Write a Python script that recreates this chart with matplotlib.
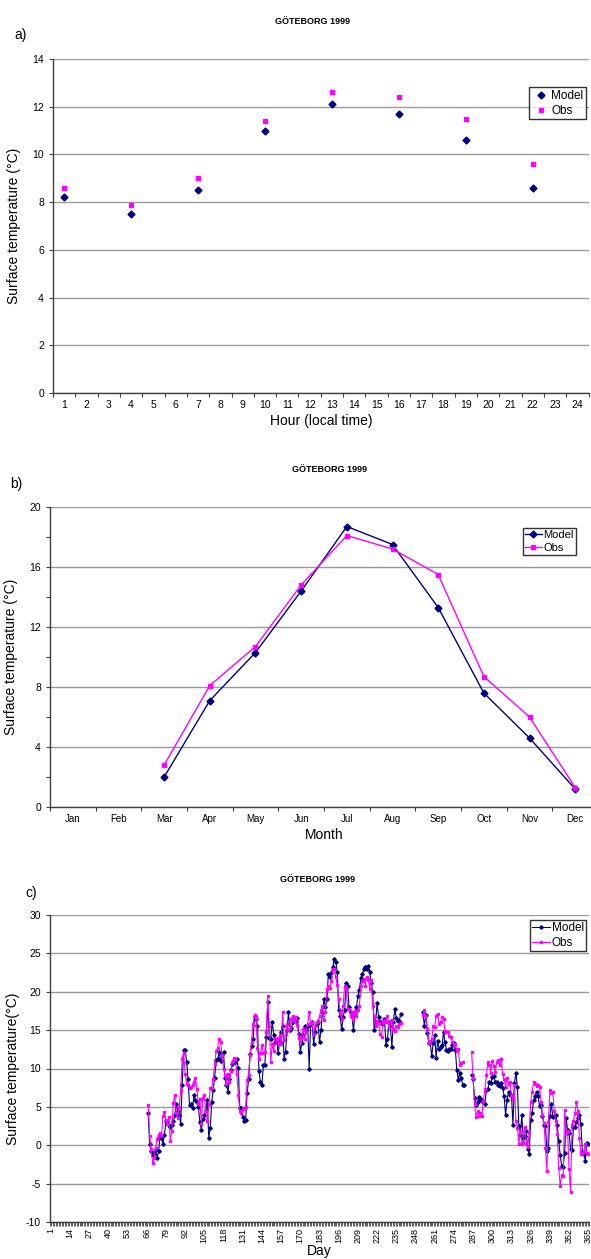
import numpy as np
import matplotlib.pyplot as plt
from matplotlib.ticker import FixedLocator, MultipleLocator, NullFormatter

plt.rcParams['font.family'] = ['Liberation Sans', 'DejaVu Sans']
plt.rcParams['axes.unicode_minus'] = False

NAVY = '#000080'
MAGENTA = '#FF00FF'

# a) diurnal values
hours = [1, 4, 7, 10, 13, 16, 19, 22]
model_hour = [8.2, 7.5, 8.5, 11.0, 12.1, 11.7, 10.6, 8.6]
obs_hour = [8.6, 7.9, 9.0, 11.4, 12.6, 12.4, 11.5, 9.6]

# b) monthly means (Mar-Dec)
months = ['Jan', 'Feb', 'Mar', 'Apr', 'May', 'Jun', 'Jul', 'Aug', 'Sep', 'Oct', 'Nov', 'Dec']
model_month = [2.0, 7.1, 10.3, 14.4, 18.7, 17.5, 13.3, 7.6, 4.6, 1.2]
obs_month = [2.8, 8.1, 10.7, 14.8, 18.1, 17.2, 15.5, 8.7, 6.0, 1.3]

# c) daily values, three periods with gaps between
seg_start_model = [67, 253, 286]
seg_start_obs = [67, 253, 286]
model_day1 = [4.2, 0.1, -0.7, -1.3, -1.0, -0.5, -1.6, -0.8, 1.1, 1.0,
              0.2, 1.4, 3.1, 3.2, 2.7, 2.4, 2.7, 3.2, 3.9, 5.4,
              4.4, 4.0, 2.8, 7.9, 12.4, 12.4, 10.9, 8.6, 5.2, 5.4,
              4.9, 6.5, 5.9, 5.7, 5.0, 3.0, 2.0, 3.4, 3.9, 4.6,
              5.9, 1.0, 2.2, 5.6, 7.2, 8.8, 11.1, 11.2, 12.1, 11.0,
              11.9, 12.2, 8.8, 7.8, 7.0, 8.6, 9.8, 10.6, 11.0, 10.9,
              11.2, 10.1, 4.9, 4.8, 3.7, 3.1, 3.3, 6.8, 8.6, 11.9,
              12.9, 13.8, 16.8, 16.5, 15.6, 9.7, 8.2, 7.9, 10.4, 10.5,
              14.1, 18.6, 14.0, 13.8, 16.1, 14.4, 13.5, 13.9, 12.0, 13.5,
              14.7, 15.6, 11.3, 12.2, 15.0, 17.3, 15.0, 15.3, 16.0, 16.4,
              16.2, 16.6, 14.5, 12.2, 13.3, 14.4, 15.6, 15.0, 15.5, 10.0,
              15.8, 16.0, 13.2, 14.7, 15.8, 16.1, 13.4, 15.0, 17.3,
              19.0, 18.0, 19.0, 22.3, 21.9, 22.5, 23.2, 24.3, 23.9, 22.6,
              17.6, 16.8, 15.1, 16.7, 17.6, 21.2, 20.8, 18.0, 17.3, 16.8,
              15.0, 17.2, 18.0, 19.4, 20.2, 21.8, 22.3, 22.9, 23.2, 23.0,
              23.4, 22.6, 21.2, 20.0, 15.0, 16.0, 18.5, 16.7, 16.0, 15.8,
              16.2, 16.5, 13.1, 13.8, 16.0, 15.5, 12.8, 16.0, 17.8, 16.6,
              16.2, 16.2, 17.1]
obs_day1 = [5.3, 1.2, -0.5, -2.3, -1.6, -0.4, 0.8, 1.4, 1.6, 1.3,
            3.8, 4.3, 3.3, 2.8, 3.7, 0.6, 1.9, 5.5, 6.6, 4.2,
            3.5, 5.0, 7.2, 11.3, 12.0, 9.3, 8.0, 7.9, 7.5, 7.6,
            7.8, 8.3, 8.7, 7.3, 5.4, 6.0, 2.8, 6.2, 6.6, 4.4,
            3.2, 5.4, 7.4, 7.5, 8.6, 10.6, 12.3, 12.7, 13.8, 13.5,
            11.7, 10.0, 9.1, 8.0, 9.3, 8.2, 9.7, 10.9, 11.4, 11.3,
            9.3, 6.6, 4.5, 4.2, 4.7, 4.9, 5.0, 8.5, 9.2, 11.8,
            13.5, 15.8, 17.0, 16.6, 12.7, 11.2, 12.0, 13.0, 12.0, 12.1,
            14.8, 19.4, 15.6, 10.8, 13.2, 12.3, 13.8, 13.9, 13.3, 14.3,
            13.2, 17.3, 13.7, 14.5, 15.8, 15.0, 15.3, 16.5, 16.9, 16.2,
            16.7, 15.7, 14.0, 13.5, 14.1, 15.2, 13.8, 14.8, 15.8, 17.3,
            15.9, 16.0, 14.5, 15.5, 16.0, 16.2, 16.8, 17.6, 18.2, 16.3,
            17.4, 20.3, 20.7, 20.5, 21.4, 22.9, 23.0, 21.9, 20.9, 19.0,
            17.2, 16.4, 18.2, 20.8, 20.5, 17.8, 17.7, 16.9, 17.3, 16.4,
            17.5, 16.8, 17.6, 18.2, 20.7, 21.4, 21.7, 20.8, 21.9, 21.6,
            20.4, 21.5, 18.2, 16.8, 15.5, 16.2, 15.9, 14.5, 14.1, 16.3,
            16.0, 16.1, 16.8, 15.5, 16.2, 16.3, 15.1, 14.9, 15.6, 15.4,
            15.8, 15.9]
model_day2 = [17.3, 15.6, 17.0, 14.6, 13.3, 13.4, 11.6, 13.3, 14.3, 11.4,
              13.6, 12.6, 12.8, 13.0, 14.8, 13.4, 12.4, 12.3, 12.6, 12.6,
              13.0, 13.3, 12.4, 9.8, 8.5, 9.4, 8.7, 7.9, 7.8]
obs_day2 = [17.0, 17.6, 16.8, 15.2, 13.5, 13.3, 13.8, 15.5, 15.4, 16.9,
            17.1, 15.8, 16.1, 16.7, 16.4, 14.9, 14.8, 14.7, 14.2, 14.1,
            13.5, 12.9, 13.2, 12.3, 12.5, 10.5, 10.7, 10.9]
model_day3 = [9.1, 8.6, 6.1, 5.3, 5.6, 6.3, 6.0, 5.9, 5.6, 5.4,
              7.2, 7.3, 8.3, 8.1, 8.9, 9.0, 8.3, 8.2, 7.8, 7.7,
              8.1, 7.5, 6.4, 4.0, 5.9, 7.0, 6.6, 6.5, 2.7, 8.1,
              9.4, 7.6, 2.5, 1.3, 3.9, 1.0, 1.2, 1.8, -0.5, -1.1,
              3.3, 4.2, 5.9, 6.4, 7.0, 6.4, 5.1, 5.2, 3.8, 2.7,
              2.5, -0.8, -0.4, 3.8, 5.4, 3.7, 3.8, 3.9, 2.7, 0.5,
              -1.3, -2.7, -2.8, -1.0, 3.5, 2.0, 1.6, -0.5, -0.6, 2.4,
              2.4, 3.0, 3.5, 4.0, 2.8, -0.9, -1.2, -2.0, 0.3, 0.2]
obs_day3 = [12.2, 8.7, 5.4, 3.7, 4.5, 3.8, 4.2, 3.8, 5.8, 7.3,
            9.1, 10.8, 10.5, 9.4, 11.0, 10.3, 9.6, 10.8, 11.1, 10.4,
            11.2, 9.3, 8.6, 7.6, 8.7, 8.0, 8.3, 6.4, 5.9, 7.8,
            3.2, 2.3, 0.2, 1.9, 0.2, 0.4, 2.4, 0.2, -0.2, 1.7,
            5.6, 7.0, 8.3, 8.0, 7.7, 7.9, 7.6, 5.7, 4.0, 2.9,
            -0.3, -3.4, 3.0, 7.2, 6.8, 6.9, 4.4, 3.2, 1.5, -3.0,
            -5.3, -3.9, -4.0, 4.6, 1.5, 1.8, -3.1, -6.1, 2.6, 3.2,
            4.2, 5.6, 4.5, 1.0, -1.1, -1.0, -0.8, 0.1, -1.0, -1.2]


def daily_series(starts, segments):
    y = np.full(365, np.nan)
    for s, seg in zip(starts, segments):
        y[s - 1:s - 1 + len(seg)] = seg
    return y


days = np.arange(1, 366)
model_day = daily_series(seg_start_model, [model_day1, model_day2, model_day3])
obs_day = daily_series(seg_start_obs, [obs_day1, obs_day2, obs_day3])

W, H = 591, 1259
fig = plt.figure(figsize=(W / 100, H / 100), dpi=100)


def box(l, r, t, b):
    return [l / W, 1 - b / H, (r - l) / W, (b - t) / H]


def style(ax):
    for s in ['top', 'right']:
        ax.spines[s].set_visible(False)
    for s in ['left', 'bottom']:
        ax.spines[s].set_color('#404040')
        ax.spines[s].set_linewidth(1.0)
    ax.yaxis.grid(True, color='#9a9a9a', linewidth=1.0)
    ax.set_axisbelow(True)
    ax.tick_params(axis='both', which='both', direction='out', color='#404040',
                   labelsize=7.5, length=3, width=0.8)


def legend(ax, anchor, fs=8.5):
    lg = ax.legend(loc='upper right', bbox_to_anchor=anchor, fontsize=fs, frameon=True,
                   fancybox=False, borderpad=0.2, handlelength=1.5, handletextpad=0.15,
                   labelspacing=0.25, borderaxespad=0)
    lg.get_frame().set_edgecolor('black')
    lg.get_frame().set_linewidth(1.0)


def title(x, y, lab, tx, ty):
    fig.text(x / W, 1 - y / H, 'GÖTEBORG 1999', fontsize=6.5, fontweight='bold', ha='center', va='center')
    fig.text(tx / W, 1 - ty / H, lab, fontsize=10, ha='left', va='center')


# ---- a)
ax = fig.add_axes(box(53, 588.5, 59, 393))
style(ax)
ax.plot(hours, model_hour, linestyle='none', marker='D', ms=3.5, color=NAVY, label='Model')
ax.plot(hours, obs_hour, linestyle='none', marker='s', ms=3.2, color=MAGENTA, label='Obs')
ax.set_xlim(0.5, 24.5)
ax.set_ylim(0, 14)
ax.set_yticks(range(0, 15, 2))
ax.xaxis.set_major_locator(FixedLocator(np.arange(0.5, 25, 1)))
ax.xaxis.set_major_formatter(NullFormatter())
ax.xaxis.set_minor_locator(FixedLocator(np.arange(1, 25)))
ax.set_xticklabels([str(h) for h in range(1, 25)], minor=True)
ax.tick_params(axis='x', which='minor', length=0, labelsize=7.5, pad=5)
ax.set_xlabel('Hour (local time)', fontsize=10, labelpad=3)
ax.set_ylabel('Surface temperature (°C)', fontsize=10, labelpad=8)
legend(ax, (0.995, 0.915))
title(313, 21, 'a)', 14, 35)

# ---- b)
ax = fig.add_axes(box(50, 598, 507, 807))
style(ax)
mx = np.arange(3, 13)
ax.plot(mx, model_month, color=NAVY, marker='D', ms=3.5, lw=1.0, label='Model')
ax.plot(mx, obs_month, color=MAGENTA, marker='s', ms=3.2, lw=1.0, label='Obs')
ax.set_xlim(0.5, 12.5)
ax.set_ylim(0, 20)
ax.set_yticks(range(0, 21, 4))
ax.yaxis.set_minor_locator(MultipleLocator(2))
ax.xaxis.set_major_locator(FixedLocator(np.arange(0.5, 13, 1)))
ax.xaxis.set_major_formatter(NullFormatter())
ax.xaxis.set_minor_locator(FixedLocator(np.arange(1, 13)))
ax.set_xticklabels(months, minor=True)
ax.tick_params(axis='x', which='minor', length=0, labelsize=7, pad=5)
ax.set_xlabel('Month', fontsize=10, labelpad=3)
ax.set_ylabel('Surface temperature (°C)', fontsize=10, labelpad=8)
legend(ax, (0.96, 0.93), fs=8)
title(330, 470, 'b)', 10, 484)

# ---- c)
ax = fig.add_axes(box(50, 589, 915, 1222))
style(ax)
ax.plot(days, model_day, color=NAVY, marker='D', ms=1.8, lw=0.8, label='Model')
ax.plot(days, obs_day, color=MAGENTA, marker='s', ms=1.6, lw=0.8, label='Obs')
ax.set_xlim(0.5, 365.5)
ax.set_ylim(-10, 30)
ax.set_yticks(range(-10, 31, 5))
ax.xaxis.set_major_locator(FixedLocator(np.arange(1, 366, 13)))
ax.set_xticklabels([str(d) for d in range(1, 366, 13)], rotation=90)
ax.xaxis.set_minor_locator(FixedLocator(np.arange(0.5, 366, 1)))
ax.tick_params(axis='x', which='major', length=0, labelsize=6.5, pad=4)
ax.tick_params(axis='x', which='minor', length=3, width=0.6)
ax.set_xlabel('Day', fontsize=10, labelpad=1)
ax.set_ylabel('Surface temperature(°C)', fontsize=10, labelpad=4)
legend(ax, (0.995, 0.985))
title(318, 880, 'c)', 25, 893)

fig.savefig('out.png', dpi=100)
